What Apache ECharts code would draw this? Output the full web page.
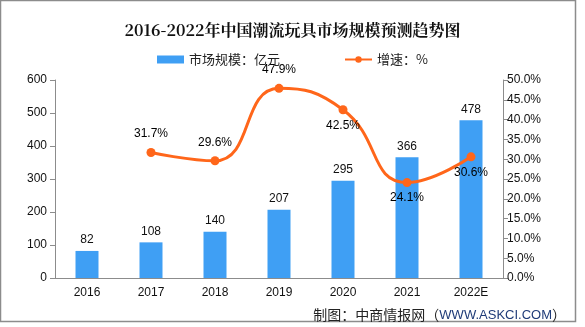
<!DOCTYPE html>
<html>
<head>
<meta charset="utf-8">
<script src="https://cdn.jsdelivr.net/npm/echarts@6/dist/echarts.min.js"></script>
<style>html,body{margin:0;padding:0;background:#fff}#c{width:585px;height:327px}</style>
</head>
<body>
<div id="c"></div>
<script>
var categories = ['2016', '2017', '2018', '2019', '2020', '2021', '2022E'];
var marketSize = [82, 108, 140, 207, 295, 366, 478];
var growthRate = [null, 31.7, 29.6, 47.9, 42.5, 24.1, 30.6];
var leftTicks = { min: 0, max: 600, interval: 100 };
var rightTicks = { min: 0, max: 50, interval: 5 };
var growthLabelBelow = [false, false, false, false, true, true, true];

var font = 'Liberation Sans, Arial, "Noto Sans CJK SC", sans-serif';
var cjk = '"Noto Sans CJK SC", sans-serif';
var serifCjk = '"Noto Serif CJK SC", "Noto Sans CJK SC", serif';
var axisLineStyle = { color: '#8c8c8c', width: 1 };

var chart = echarts.init(document.getElementById('c'), null, { renderer: 'canvas' });
chart.setOption({
  animation: false,
  backgroundColor: '#fff',
  title: [{
    text: '2016-2022年中国潮流玩具市场规模预测趋势图',
    left: 'center',
    top: 17,
    textStyle: { fontFamily: serifCjk, fontSize: 16, fontWeight: 'bold', color: '#111' }
  }, {
    text: '{a|制图：中商情报网（}{b|WWW.ASKCI.COM}{a|）}',
    right: 14,
    top: 303,
    textStyle: {
      fontWeight: 'normal',
      rich: {
        a: { fontFamily: cjk, fontSize: 14, fontWeight: 'normal', color: '#222' },
        b: { fontFamily: font, fontSize: 13, fontWeight: 'normal', color: '#1f3b78' }
      }
    }
  }],
  legend: {
    top: 48,
    left: 'center',
    itemGap: 64,
    itemWidth: 27,
    itemHeight: 8,
    textStyle: { fontFamily: cjk, fontSize: 13, color: '#222' },
    data: [
      { name: '市场规模：亿元', icon: 'rect' },
      { name: '增速：%' }
    ]
  },
  grid: { left: 55, right: 82, top: 80, bottom: 49, containLabel: false },
  xAxis: {
    type: 'category',
    data: categories,
    axisLine: { lineStyle: axisLineStyle },
    axisTick: { lineStyle: axisLineStyle, length: 5 },
    axisLabel: { color: '#111', fontFamily: font, fontSize: 12, margin: 9 }
  },
  yAxis: [{
    type: 'value',
    min: leftTicks.min, max: leftTicks.max, interval: leftTicks.interval,
    axisLine: { show: true, lineStyle: axisLineStyle },
    axisTick: { show: true, lineStyle: axisLineStyle },
    splitLine: { show: false },
    axisLabel: { color: '#111', fontFamily: font, fontSize: 12, margin: 8 }
  }, {
    type: 'value',
    position: 'right',
    min: rightTicks.min, max: rightTicks.max, interval: rightTicks.interval,
    axisLine: { show: true, lineStyle: axisLineStyle },
    axisTick: { show: true, lineStyle: axisLineStyle },
    splitLine: { show: false },
    axisLabel: {
      color: '#111', fontFamily: font, fontSize: 12, margin: 4,
      formatter: function (v) { return v.toFixed(1) + '%'; }
    }
  }],
  series: [{
    name: '市场规模：亿元',
    type: 'bar',
    data: marketSize,
    barWidth: 23,
    itemStyle: { color: '#3f9ff4' },
    label: { show: true, position: 'top', distance: 5, color: '#111', fontFamily: font, fontSize: 12 }
  }, {
    name: '增速：%',
    type: 'line',
    yAxisIndex: 1,
    data: growthRate,
    smooth: 0.5,
    symbol: 'circle',
    symbolSize: 9,
    lineStyle: { color: '#ff661a', width: 3 },
    itemStyle: { color: '#ff661a' },
    label: {
      show: true, position: 'top', distance: 8,
      color: '#000', fontFamily: font, fontSize: 12,
      formatter: function (p) { return p.value == null ? '' : Number(p.value).toFixed(1) + '%'; }
    },
    labelLayout: function (params) {
      if (!growthLabelBelow[params.dataIndex]) return {};
      var r = params.rect;
      return {
        x: r.x + r.width / 2,
        y: r.y + r.height + 11,
        align: 'center',
        verticalAlign: 'middle',
        moveOverlap: false,
        hideOverlap: false
      };
    },
    z: 3
  }],
  graphic: [{
    type: 'rect',
    shape: { x: 0.5, y: 0.5, width: 575, height: 321 },
    style: { fill: 'none', stroke: '#8c8c8c', lineWidth: 1.5 },
    silent: true,
    z: -1
  }]
});
</script>
</body>
</html>
